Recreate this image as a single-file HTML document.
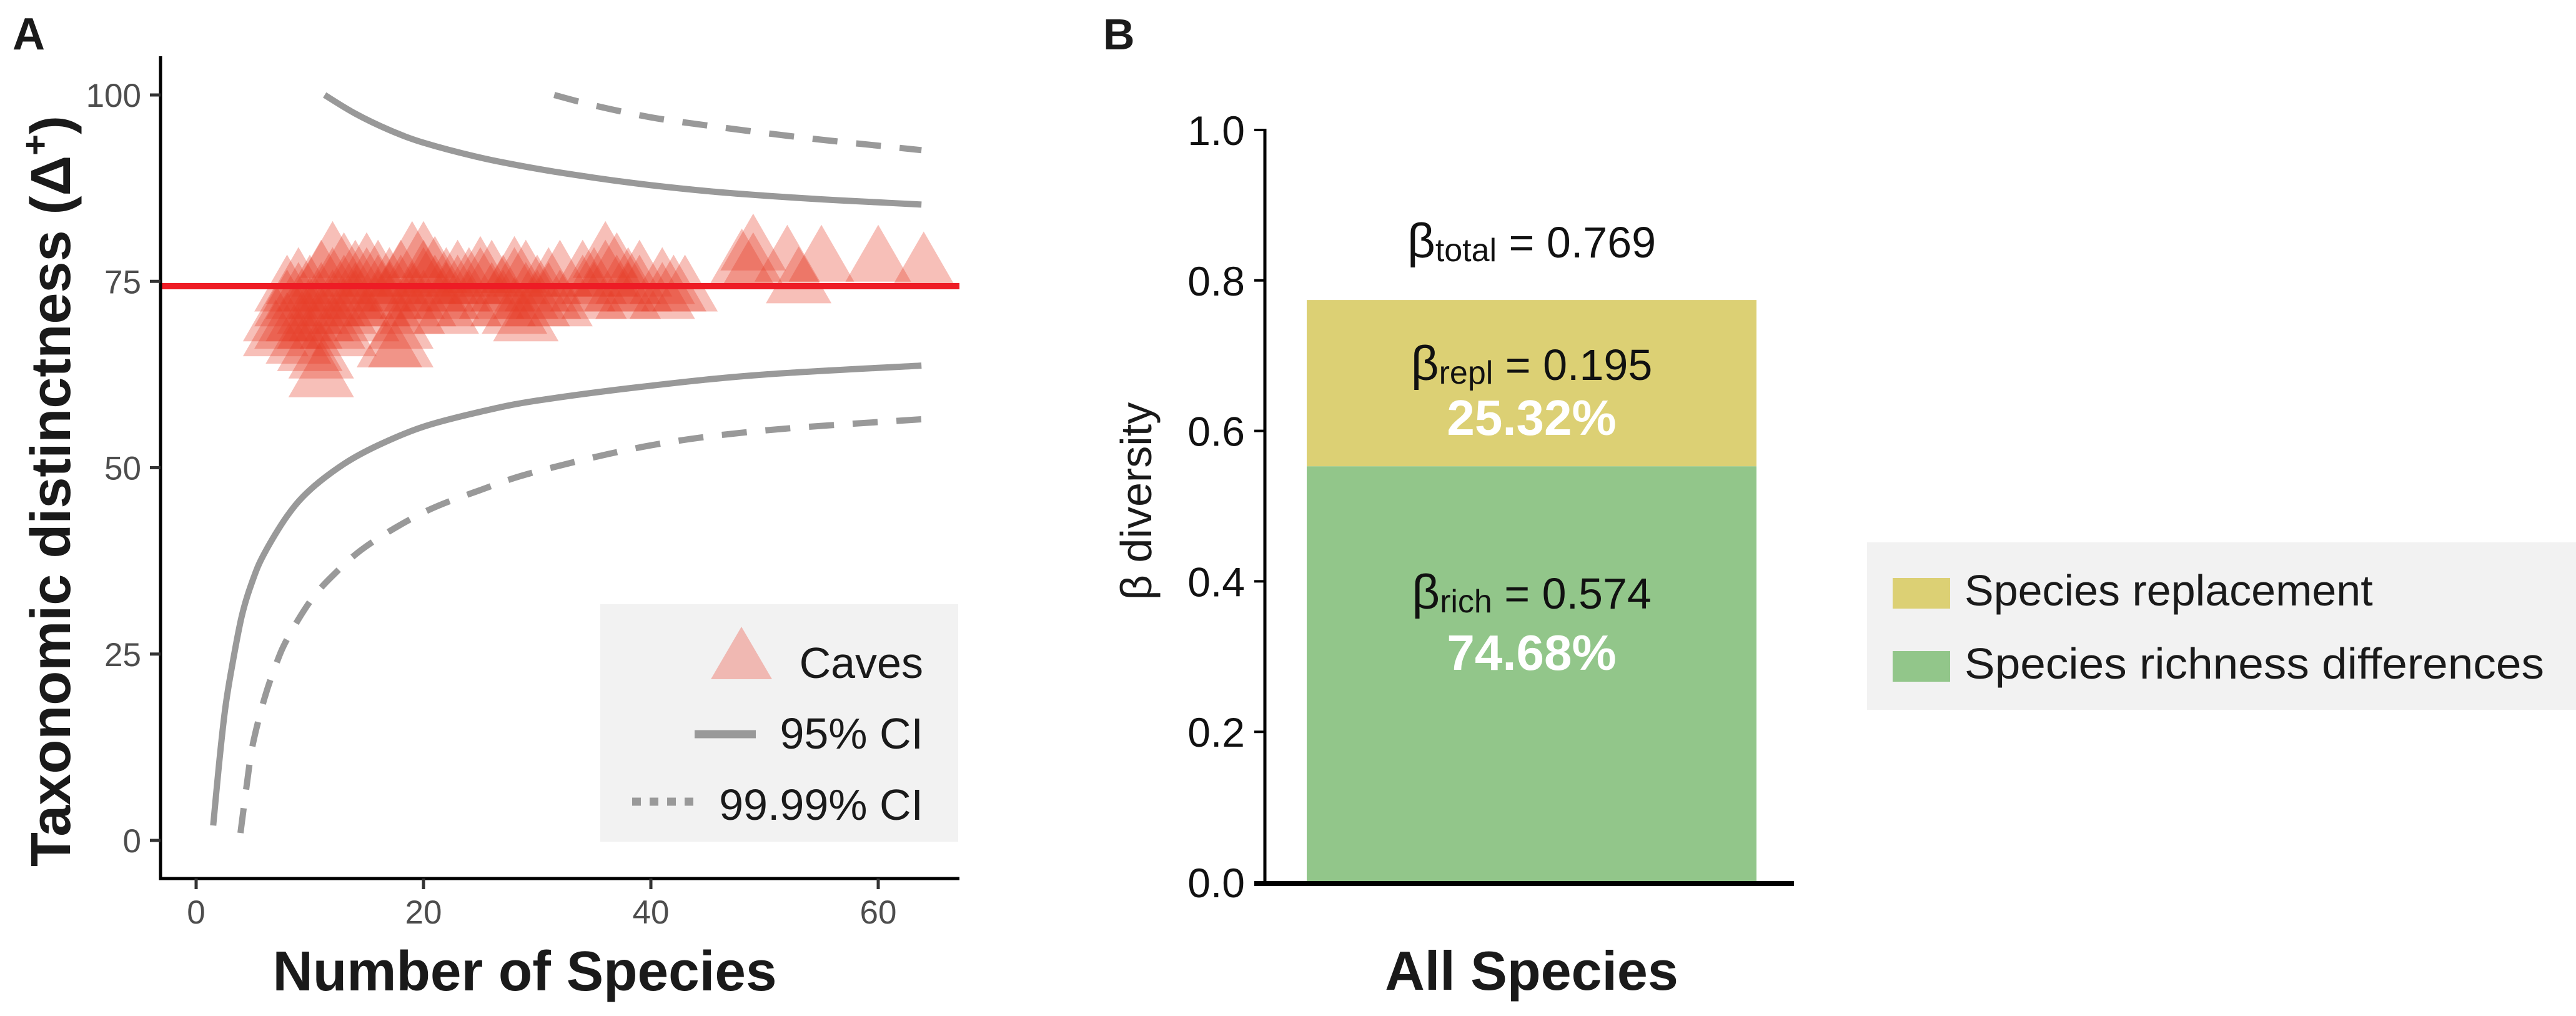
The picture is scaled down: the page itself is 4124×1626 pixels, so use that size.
<!DOCTYPE html>
<html><head><meta charset="utf-8"><style>
html,body{margin:0;padding:0;background:#fff}
svg{display:block}
text{font-family:"Liberation Sans",Arial,sans-serif}
</style></head><body>
<svg id="fig" width="4124" height="1626" viewBox="0 0 4124 1626" xmlns="http://www.w3.org/2000/svg">
<rect x="0" y="0" width="4124" height="1626" fill="#fff"/>
<g id="panelA"></g>
<g id="panelB"></g>
</svg>
<script>
// ---------- Panel A data ----------
const xTicksA = [0, 20, 40, 60];
const yTicksA = [0, 25, 50, 75, 100];
const meanDelta = 74.35;
const ci95UpperN = [11.3,14,17,20,25,30,35,40,45,50,55,60,63.8];
const ci95UpperV = [100,97.5,95.3,93.6,91.6,90.1,88.9,87.9,87.1,86.5,86,85.6,85.3];
const ci95LowerN = [1.5,2,2.5,3,4,5,6,8,10,13,16,20,25,30,40,50,63.8];
const ci95LowerV = [2,10,17,22,30,35,38.5,43.5,47,50.5,53,55.5,57.5,59,61,62.5,63.7];
const ci9999LowerN = [3.9,4.5,5,6,7,8,10,12,15,20,25,30,40,50,63.8];
const ci9999LowerV = [1,8,13,19,23.5,27,32,35.5,39.5,44,47,49.5,53,55,56.5];
const ci9999UpperN = [31.5,35,40,45,50,55,60,63.8];
const ci9999UpperV = [100,98.6,97,95.9,94.9,94,93.2,92.6];
const cavesSpecies = [7,7,8,8,8,9,9,9,9,10,10,10,10,11,11,11,11,11,12,12,12,12,13,13,13,13,14,14,14,15,15,15,16,16,16,17,17,17,18,18,18,18,19,19,19,20,20,20,20,21,21,22,22,22,23,23,24,24,25,25,26,26,27,27,28,28,28,29,29,29,30,30,31,31,32,32,34,34,35,35,36,36,37,37,38,38,39,39,41,41,42,43,48,49,49,52,53,55,60,64];
const cavesDelta   = [67.5,69.5,68.5,71.5,73.5,69.5,72.5,74.5,66.5,70.5,
73.5,65.5,68.5,62,72.5,75.5,64.5,69.5,71.5,74.5,
78,68.5,73.5,76.5,70.5,67.5,72.5,75.5,71.5,74.5,
76.5,69.5,73.5,75.5,71.5,66,72.5,74.5,66,68.5,
75.5,73.5,70.5,78,72.5,74.5,78,71.5,75.5,73.5,
76,72.5,70.5,74.5,75.5,73.5,71.5,74.5,74.5,76,
72.5,75.5,73.5,71.5,70.5,74.5,76,72.5,75.5,69.5,
73.5,71.5,74.5,72.5,71.5,75.5,73.5,75.5,72.5,74.5,
75.5,78,73.5,76.5,74.5,72.5,75.5,73.5,74.5,72.5,
73.5,73.5,77,79,76.5,77.5,74.6,77.5,77.5,76.6];

// ---------- Panel B data ----------
const yTicksB = [0.0, 0.2, 0.4, 0.6, 0.8, 1.0];
const yTickLabelsB = ["0.0","0.2","0.4","0.6","0.8","1.0"];
const barCategory = ["All Species"];
const richnessHeight = [0.553];
const replacementHeight = [0.221];

const NS = "http://www.w3.org/2000/svg";
function mk(tag, attrs, parent){
  const e = document.createElementNS(NS, tag);
  for (const k in attrs) e.setAttribute(k, attrs[k]);
  if (parent) parent.appendChild(e);
  return e;
}
function smoothPath(pts){
  let d = "M" + pts[0][0].toFixed(1) + "," + pts[0][1].toFixed(1);
  for (let i = 0; i < pts.length - 1; i++){
    const p0 = pts[Math.max(0,i-1)], p1 = pts[i], p2 = pts[i+1], p3 = pts[Math.min(pts.length-1,i+2)];
    const c1x = p1[0] + (p2[0]-p0[0])/6, c1y = p1[1] + (p2[1]-p0[1])/6;
    const c2x = p2[0] - (p3[0]-p1[0])/6, c2y = p2[1] - (p3[1]-p1[1])/6;
    d += " C" + c1x.toFixed(1)+","+c1y.toFixed(1)+" "+c2x.toFixed(1)+","+c2y.toFixed(1)+" "+p2[0].toFixed(1)+","+p2[1].toFixed(1);
  }
  return d;
}

// ---------- Panel A ----------
const A = document.getElementById("panelA");
const xA = v => 314 + 18.2 * v;
const yA = v => 1345 - 11.93 * v;
const plotL = 257, plotR = 1536, plotT = 90, plotB = 1406;

let t = mk("text", {x:20, y:79, "font-size":72, "font-weight":"bold", fill:"#1a1a1a"}, A);
t.textContent = "A";



function curve(ns, vs, dashed, name){
  const pts = ns.map((n,i) => [xA(n), yA(vs[i])]);
  const p = mk("path", {d: smoothPath(pts), fill:"none", stroke:"#999999", "stroke-width":10, "stroke-linecap":"butt"}, A);
  if (dashed) p.setAttribute("stroke-dasharray", "40 30");
  
  
}
curve(ci95UpperN, ci95UpperV, false, "ci95-upper-line");
curve(ci95LowerN, ci95LowerV, false, "ci95-lower-line");
curve(ci9999UpperN, ci9999UpperV, true, "ci9999-upper-line");
curve(ci9999LowerN, ci9999LowerV, true, "ci9999-lower-line");

const triH = 91, triW = 105;
const triG = mk("g", {}, A);


for (let i = 0; i < cavesSpecies.length; i++){
  const cx = xA(cavesSpecies[i]), cy = yA(cavesDelta[i]);
  const pts = [[cx, cy - triH*2/3],[cx - triW/2, cy + triH/3],[cx + triW/2, cy + triH/3]].map(p=>p[0].toFixed(1)+","+p[1].toFixed(1)).join(" ");
  const tri = mk("polygon", {points: pts, fill:"rgb(230,60,40)", "fill-opacity":0.33}, triG);
  
  
}

let ml = mk("line", {x1: plotL, x2: plotR, y1: yA(meanDelta), y2: yA(meanDelta), stroke:"#ee1c25", "stroke-width":10}, A);



let ax = mk("line", {x1: plotL, x2: plotL, y1: plotT, y2: plotB+2.5, stroke:"#000", "stroke-width":5}, A);


ax = mk("line", {x1: plotL-2.5, x2: plotR, y1: plotB, y2: plotB, stroke:"#000", "stroke-width":5}, A);



yTicksA.forEach(v => {
  const y = yA(v);
  const tk = mk("line", {x1: 240, x2: plotL, y1: y, y2: y, stroke:"#333", "stroke-width":5}, A);
  
  
  const lb = mk("text", {x: 226, y: y + 19, "font-size":53, fill:"#4d4d4d", "text-anchor":"end"}, A);
  lb.textContent = String(v);
  
  
});
xTicksA.forEach(v => {
  const x = xA(v);
  const tk = mk("line", {x1: x, x2: x, y1: plotB, y2: plotB + 17, stroke:"#333", "stroke-width":5}, A);
  
  
  const lb = mk("text", {x: x, y: 1478, "font-size":53, fill:"#4d4d4d", "text-anchor":"middle"}, A);
  lb.textContent = String(v);
  
  
});

t = mk("text", {x: 840, y: 1585, "font-size":90, "font-weight":"bold", fill:"#1a1a1a", "text-anchor":"middle", textLength:807, lengthAdjust:"spacingAndGlyphs"}, A);
t.textContent = "Number of Species";



t = mk("text", {x: 0, y: 0, "font-size":90, "font-weight":"bold", fill:"#1a1a1a", "text-anchor":"middle", transform:"translate(112,786) rotate(-90)"}, A);


t.appendChild(document.createTextNode("Taxonomic distinctness (Δ"));
let sup = mk("tspan", {"font-size":58, dy:-36}, t);
sup.textContent = "+";
let cl = mk("tspan", {dy:36}, t);
cl.textContent = ")";

const legA = mk("g", {}, A);


let r = mk("rect", {x:961, y:967, width:573, height:380, fill:"#f2f2f2"}, legA);


let lt = mk("polygon", {points:"1187,1003 1138,1087 1236,1087", fill:"#f0b8b2"}, legA);


let tx = mk("text", {x:1478, y:1085, "font-size":70, fill:"#1a1a1a", "text-anchor":"end"}, legA);
tx.textContent = "Caves";


let ll = mk("line", {x1:1112, x2:1210, y1:1175, y2:1175, stroke:"#999", "stroke-width":13}, legA);


tx = mk("text", {x:1478, y:1198, "font-size":70, fill:"#1a1a1a", "text-anchor":"end"}, legA);
tx.textContent = "95% CI";


ll = mk("line", {x1:1012, x2:1111, y1:1283, y2:1283, stroke:"#999", "stroke-width":13, "stroke-dasharray":"14 14"}, legA);


tx = mk("text", {x:1478, y:1312, "font-size":70, fill:"#1a1a1a", "text-anchor":"end"}, legA);
tx.textContent = "99.99% CI";



// ---------- Panel B ----------
const B = document.getElementById("panelB");
const yB = v => 1412 - 1204 * v;
const barL = 2092, barR = 2812, bcx = (barL + barR) / 2;

t = mk("text", {x:1766, y:79, "font-size":70, "font-weight":"bold", fill:"#1a1a1a"}, B);
t.textContent = "B";



barCategory.forEach((c, i) => {
  const g0 = yB(0), g1 = yB(richnessHeight[i]), y2 = yB(richnessHeight[i] + replacementHeight[i]);
  const gb = mk("rect", {x: barL, y: g1, width: barR - barL, height: g0 - g1, fill:"#92c68a"}, B);
  
  
  const yb = mk("rect", {x: barL, y: y2, width: barR - barL, height: g1 - y2, fill:"#dcd074"}, B);
  
  
});

function betaLabel(sub, val, y, name){
  const tt = mk("text", {x: bcx, y: y, "font-size":70, fill:"#111", "text-anchor":"middle"}, B);
  
  
  const b = mk("tspan", {"font-size":78}, tt); b.textContent = "β";
  const s = mk("tspan", {"font-size":52, dy:6}, tt); s.textContent = sub;
  const v = mk("tspan", {dy:-6}, tt); v.textContent = " = " + val;
}
betaLabel("total", "0.769", 412, "beta-total-label");
betaLabel("repl", "0.195", 608, "beta-repl-label");
betaLabel("rich", "0.574", 974, "beta-rich-label");
t = mk("text", {x: bcx, y: 696, "font-size":80, "font-weight":"bold", fill:"#fff", "text-anchor":"middle"}, B);
t.textContent = "25.32%";


t = mk("text", {x: bcx, y: 1072, "font-size":80, "font-weight":"bold", fill:"#fff", "text-anchor":"middle"}, B);
t.textContent = "74.68%";



ax = mk("line", {x1:2025, x2:2025, y1:yB(1.0)-2, y2:1416, stroke:"#000", "stroke-width":5}, B);


ax = mk("line", {x1:2008, x2:2872, y1:1414, y2:1414, stroke:"#000", "stroke-width":8}, B);


yTicksB.forEach((v, i) => {
  const y = yB(v);
  const tk = mk("line", {x1:2008, x2:2025, y1:y, y2:y, stroke:"#000", "stroke-width":4}, B);
  
  
  const lb = mk("text", {x:1993, y: y + 24, "font-size":66, fill:"#111", "text-anchor":"end"}, B);
  lb.textContent = yTickLabelsB[i];
  
  
});
t = mk("text", {x: bcx, y: 1584, "font-size":88, "font-weight":"bold", fill:"#1a1a1a", "text-anchor":"middle"}, B);
t.textContent = barCategory[0];


t = mk("text", {x:0, y:0, "font-size":70, fill:"#1a1a1a", "text-anchor":"middle", transform:"translate(1843,802) rotate(-90)"}, B);
t.textContent = "β diversity";



const legB = mk("g", {}, B);


r = mk("rect", {x:2989, y:868, width:1135, height:268, fill:"#f2f2f2"}, legB);


r = mk("rect", {x:3030, y:925, width:92, height:49, fill:"#dcd074"}, legB);


r = mk("rect", {x:3030, y:1042, width:92, height:49, fill:"#92c68a"}, legB);


tx = mk("text", {x:3145, y:969, "font-size":70, fill:"#1a1a1a"}, legB);
tx.textContent = "Species replacement";


tx = mk("text", {x:3145, y:1086, "font-size":70, fill:"#1a1a1a", textLength:928, lengthAdjust:"spacingAndGlyphs"}, legB);
tx.textContent = "Species richness differences";


</script>
</body></html>
